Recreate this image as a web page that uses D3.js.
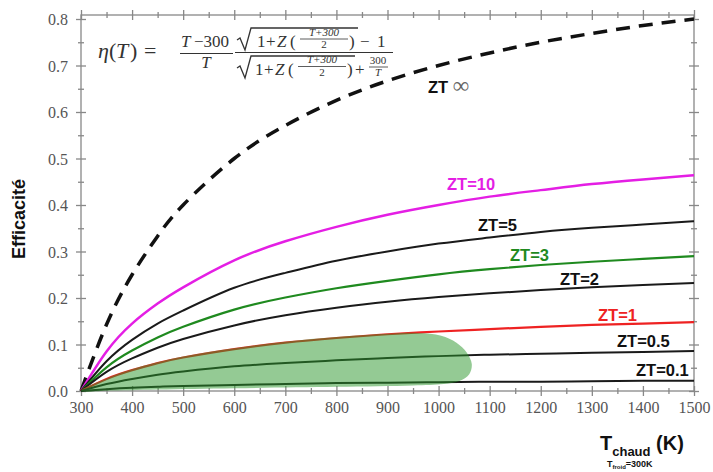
<!DOCTYPE html>
<html>
<head>
<meta charset="utf-8">
<script src="https://cdn.jsdelivr.net/npm/d3@7"></script>
<style>
  body { margin: 0; background: #fff; }
  svg { display: block; }
</style>
</head>
<body>
<svg width="713" height="472"></svg>
<script>
// T chaud (K) sampled along the curves
var temps = [300, 350, 400, 450, 500, 600, 700, 800, 900, 1000, 1100, 1200, 1300, 1400, 1500];

// efficiency, one array per ZT curve
var etaInf = [0, 0.143, 0.25, 0.333, 0.40, 0.50, 0.571, 0.625, 0.667, 0.70, 0.727, 0.75, 0.769, 0.786, 0.80];
var eta10  = [0, 0.085, 0.145, 0.188, 0.223, 0.281, 0.322, 0.353, 0.379, 0.40, 0.418, 0.432, 0.445, 0.455, 0.464];
var eta5   = [0, 0.064, 0.11, 0.145, 0.173, 0.222, 0.254, 0.28, 0.30, 0.317, 0.33, 0.342, 0.351, 0.358, 0.365];
var eta3   = [0, 0.051, 0.087, 0.115, 0.138, 0.175, 0.201, 0.221, 0.237, 0.251, 0.262, 0.271, 0.278, 0.284, 0.29];
var eta2   = [0, 0.041, 0.07, 0.093, 0.112, 0.141, 0.163, 0.179, 0.192, 0.202, 0.21, 0.217, 0.223, 0.228, 0.232];
var eta1   = [0, 0.026, 0.045, 0.06, 0.072, 0.09, 0.104, 0.114, 0.122, 0.128, 0.133, 0.138, 0.142, 0.145, 0.148];
var eta05  = [0, 0.015, 0.026, 0.035, 0.042, 0.053, 0.06, 0.066, 0.071, 0.075, 0.078, 0.08, 0.082, 0.084, 0.086];
var eta01  = [0, 0.004, 0.007, 0.009, 0.011, 0.013, 0.015, 0.017, 0.018, 0.019, 0.020, 0.020, 0.021, 0.022, 0.022];

// outline of the green shaded zone (T, eta)
var blobT   = [300, 350, 400, 500, 600, 700, 800, 900, 960, 1005, 1035, 1055, 1065, 1060, 1042, 1010, 950, 800, 600, 450, 350];
var blobEta = [0, 0.027, 0.047, 0.074, 0.092, 0.106, 0.116, 0.123, 0.125, 0.119, 0.104, 0.083, 0.058, 0.036, 0.022, 0.015, 0.012, 0.009, 0.006, 0.003, 0.0005];

var xTicks = [300, 400, 500, 600, 700, 800, 900, 1000, 1100, 1200, 1300, 1400, 1500];
var xMinor = [350, 450, 550, 650, 750, 850, 950, 1050, 1150, 1250, 1350, 1450];
var yTicks = [0, 0.1, 0.2, 0.3, 0.4, 0.5, 0.6, 0.7, 0.8];
var yMinor = [0.05, 0.15, 0.25, 0.35, 0.45, 0.55, 0.65, 0.75];

var curves = [
  {name: "ZT ∞",  vals: etaInf, color: "#111",    width: 3.5, dash: "14,9"},
  {name: "ZT=10", vals: eta10,  color: "#e41ee4", width: 2.5},
  {name: "ZT=5",  vals: eta5,   color: "#1a1a1a", width: 2},
  {name: "ZT=3",  vals: eta3,   color: "#1f8a1f", width: 2.2},
  {name: "ZT=2",  vals: eta2,   color: "#1a1a1a", width: 2},
  {name: "ZT=1",  vals: eta1,   color: "#ee2222", width: 2.2},
  {name: "ZT=0.5",vals: eta05,  color: "#1a1a1a", width: 2},
  {name: "ZT=0.1",vals: eta01,  color: "#1a1a1a", width: 2}
];

var SERIF = "'Liberation Serif', 'DejaVu Serif', serif";
var SANS = "'Liberation Sans', Arial, sans-serif";

var svg = d3.select("svg");

var xScale = d3.scaleLinear().domain([300, 1500]).range([81, 694]);
var yScale = d3.scaleLinear().domain([0, 0.8]).range([391, 19]);

// frame
svg.append("rect")
  .attr("x", 81).attr("y", 15)
  .attr("width", 694 - 81).attr("height", 391 - 15)
  .attr("fill", "none").attr("stroke", "#888").attr("stroke-width", 1.3);

// axes with ticks crossing the frame
function hAxis(y, vals, len, labels) {
  var ax = d3.axisBottom(xScale).tickValues(vals).tickSize(len)
    .tickFormat(labels ? d3.format("d") : "");
  var g = svg.append("g").attr("transform", "translate(0," + y + ")").call(ax);
  g.select(".domain").remove();
  g.selectAll(".tick line").attr("y1", -len).attr("stroke", "#888").attr("stroke-width", 1.3);
  g.selectAll(".tick text").attr("y", 22).attr("dy", 0)
    .style("font-family", SERIF).style("font-size", "16px").attr("fill", "#555");
}
function vAxis(x, vals, len, labels) {
  var ax = d3.axisLeft(yScale).tickValues(vals).tickSize(len)
    .tickFormat(labels ? d3.format(".1f") : "");
  var g = svg.append("g").attr("transform", "translate(" + x + ",0)").call(ax);
  g.select(".domain").remove();
  g.selectAll(".tick line").attr("x1", len).attr("stroke", "#888").attr("stroke-width", 1.3);
  g.selectAll(".tick text").attr("x", -13).attr("dy", "0.35em")
    .style("font-family", SERIF).style("font-size", "16px").attr("fill", "#555");
}
hAxis(391, xTicks, 5, true);
hAxis(391, xMinor, 3, false);
hAxis(15, xTicks, 5, false);
hAxis(15, xMinor, 3, false);
vAxis(81, yTicks, 5, true);
vAxis(81, yMinor, 3, false);
vAxis(694, yTicks, 5, false);
vAxis(694, yMinor, 3, false);

// curves
var line = d3.line()
  .x(function(d) { return xScale(d[0]); })
  .y(function(d) { return yScale(d[1]); })
  .curve(d3.curveNatural);

curves.forEach(function(c) {
  var pts = temps.map(function(t, i) { return [t, c.vals[i]]; });
  svg.append("path")
    .attr("d", line(pts))
    .attr("fill", "none")
    .attr("stroke", c.color)
    .attr("stroke-width", c.width)
    .attr("stroke-dasharray", c.dash || null);
});

// green zone, drawn over the low curves
var blobLine = d3.line()
  .x(function(d) { return xScale(d[0]); })
  .y(function(d) { return yScale(d[1]); })
  .curve(d3.curveCatmullRomClosed.alpha(0.5));
svg.append("path")
  .attr("d", blobLine(blobT.map(function(t, i) { return [t, blobEta[i]]; })))
  .attr("fill", "#2a962a")
  .attr("fill-opacity", 0.5)
  .attr("stroke", "none");

// curve labels
var labels = [
  {t: "ZT=10",  x: 447, y: 190, c: "#e41ee4"},
  {t: "ZT=5",   x: 478, y: 231, c: "#111"},
  {t: "ZT=3",   x: 510, y: 261, c: "#1f8a1f"},
  {t: "ZT=2",   x: 560, y: 285, c: "#111"},
  {t: "ZT=1",   x: 598, y: 321, c: "#ee2222"},
  {t: "ZT=0.5", x: 617, y: 347, c: "#111"},
  {t: "ZT=0.1", x: 636, y: 376, c: "#111"}
];
svg.selectAll(".zt").data(labels).enter().append("text")
  .attr("class", "zt")
  .style("font-family", SANS).style("font-weight", "bold")
  .attr("x", function(d) { return d.x; })
  .attr("y", function(d) { return d.y; })
  .attr("fill", function(d) { return d.c; })
  .attr("font-size", 16.5)
  .text(function(d) { return d.t; });

var inf = svg.append("text").attr("x", 428).attr("y", 93);
inf.append("tspan").style("font-family", SANS).style("font-weight", "bold")
  .attr("font-size", 16.5).attr("fill", "#111").text("ZT ");
inf.append("tspan").style("font-family", SERIF).attr("font-size", 23).attr("fill", "#666").text("∞");

// axis titles
svg.append("text")
  .attr("transform", "translate(25,219) rotate(-90)")
  .attr("text-anchor", "middle")
  .style("font-family", SANS).style("font-weight", "bold")
  .attr("font-size", 18)
  .attr("fill", "#111")
  .text("Efficacité");

var xt = svg.append("text").style("font-family", SANS).style("font-weight", "bold")
  .attr("x", 600).attr("y", 450).attr("fill", "#111");
xt.append("tspan").attr("font-size", 20).text("T");
xt.append("tspan").attr("font-size", 13).attr("dy", 6).text("chaud");
xt.append("tspan").attr("font-size", 20).attr("dy", -6).text(" (K)");

var xf = svg.append("text").style("font-family", SANS).style("font-weight", "bold")
  .attr("x", 607).attr("y", 467).attr("fill", "#111");
xf.append("tspan").attr("font-size", 9).text("T");
xf.append("tspan").attr("font-size", 6).attr("dy", 2).text("froid");
xf.append("tspan").attr("font-size", 9).attr("dy", -2).text("=300K");

// formula, set piece by piece
var eq = svg.append("g").attr("fill", "#333").style("font-family", SERIF);
function txt(x, y, size, s, italic, anchor) {
  eq.append("text").attr("x", x).attr("y", y).attr("font-size", size)
    .attr("font-style", italic ? "italic" : "normal")
    .attr("text-anchor", anchor || "start").text(s);
}
function bar(x1, x2, y, w) {
  eq.append("line").attr("x1", x1).attr("x2", x2).attr("y1", y).attr("y2", y)
    .attr("stroke", "#333").attr("stroke-width", w || 1.1);
}
function radical(x, yTop, yBot, x2) {
  eq.append("path")
    .attr("d", "M" + x + "," + (yBot - 10) + " L" + (x + 3) + "," + (yBot - 12) +
      " L" + (x + 8) + "," + yBot + " L" + (x + 14) + "," + yTop + " L" + x2 + "," + yTop)
    .attr("fill", "none").attr("stroke", "#333").attr("stroke-width", 1.3);
}
txt(98, 58, 22, "η", true);
txt(109, 58, 22, "(", false);
txt(116, 58, 22, "T", true);
txt(130, 58, 22, ")", false);
txt(144, 58, 22, "=", false);

txt(181, 47, 17, "T", true);
txt(194, 47, 17, "−300", false);
bar(180, 233, 53.5);
txt(206, 68, 17, "T", true, "middle");

// numerator of the second fraction
radical(237, 28, 50, 358);
txt(257, 47, 17, "1", false);
txt(266, 47, 17, "+", false);
txt(277, 47, 17, "Z", true);
txt(290, 47, 17, "(", false);
txt(324, 36, 11, "T+300", true, "middle");
bar(300, 348, 39, 0.8);
txt(324, 48, 11, "2", false, "middle");
txt(349, 47, 17, ")", false);
txt(360, 47, 17, "−", false);
txt(377, 47, 17, "1", false);
bar(235, 393, 52.5);
// denominator
radical(237, 56, 78, 355);
txt(255, 75, 17, "1", false);
txt(264, 75, 17, "+", false);
txt(275, 75, 17, "Z", true);
txt(288, 75, 17, "(", false);
txt(322, 63, 11, "T+300", true, "middle");
bar(298, 346, 66.5, 0.8);
txt(322, 76, 11, "2", false, "middle");
txt(347, 75, 17, ")", false);
txt(355, 75, 17, "+", false);
txt(378, 64, 11, "300", false, "middle");
bar(369, 388, 67, 0.8);
txt(378, 76, 11, "T", true, "middle");
</script>
</body>
</html>
